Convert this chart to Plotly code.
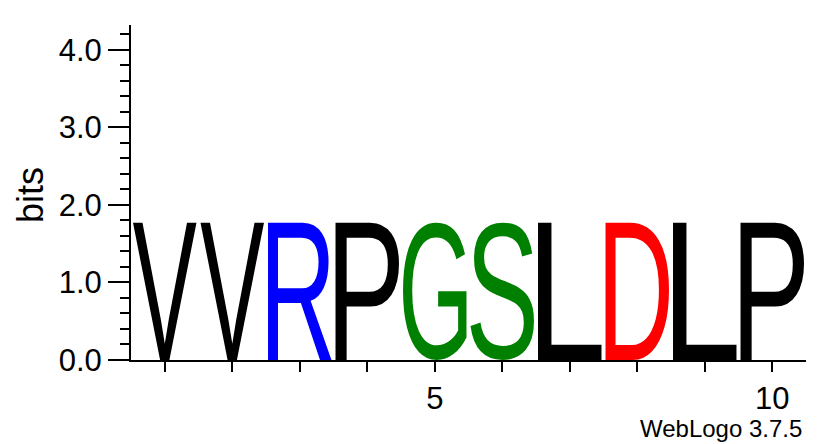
import glob
import struct
import subprocess

import plotly.graph_objects as go

# sequence logo data
positions = [1, 2, 3, 4, 5, 6, 7, 8, 9, 10]
residues = ['V', 'V', 'R', 'P', 'G', 'S', 'L', 'D', 'L', 'P']
bits = [1.77, 1.77, 1.77, 1.77, 1.77, 1.77, 1.77, 1.77, 1.77, 1.77]
x_tick_labels = ['', '', '', '', '5', '', '', '', '', '10']
y_max = 4.32

# weblogo default protein colours, everything else is black
colors = {'G': '#008000', 'S': '#008000', 'T': '#008000', 'Y': '#008000',
          'C': '#008000', 'Q': '#008000', 'N': '#008000',
          'K': '#0000ff', 'R': '#0000ff', 'H': '#0000ff',
          'D': '#ff0000', 'E': '#ff0000'}

FONT = 'Liberation Sans, Arial, Helvetica, sans-serif'


def find_font():
    try:
        f = subprocess.run(['fc-match', '-f', '%{file}', 'Liberation Sans'],
                           capture_output=True, text=True).stdout.strip()
        if f.lower().endswith('.ttf'):
            return f
    except Exception:
        pass
    for pat in ['/usr/share/fonts/**/LiberationSans-Regular.ttf',
                '/usr/**/LiberationSans-Regular.ttf',
                '/usr/share/fonts/**/DejaVuSans.ttf']:
        r = glob.glob(pat, recursive=True)
        if r:
            return r[0]
    return None


class TTF:
    # just enough of a truetype reader to get glyph outlines
    def __init__(self, path):
        d = open(path, 'rb').read()
        self.d = d
        n = struct.unpack('>H', d[4:6])[0]
        self.tab = {}
        for i in range(n):
            tag, _, off, ln = struct.unpack('>4sIII', d[12 + 16 * i:28 + 16 * i])
            self.tab[tag.decode('latin1')] = off
        head = self.tab['head']
        locfmt = struct.unpack('>h', d[head + 50:head + 52])[0]
        maxp = self.tab['maxp']
        ng = struct.unpack('>H', d[maxp + 4:maxp + 6])[0]
        lo = self.tab['loca']
        if locfmt == 0:
            self.loca = [2 * v for v in struct.unpack('>%dH' % (ng + 1), d[lo:lo + 2 * (ng + 1)])]
        else:
            self.loca = list(struct.unpack('>%dI' % (ng + 1), d[lo:lo + 4 * (ng + 1)]))
        self._read_cmap()

    def _read_cmap(self):
        d = self.d
        base = self.tab['cmap']
        n = struct.unpack('>H', d[base + 2:base + 4])[0]
        sub = None
        for i in range(n):
            pid, eid, off = struct.unpack('>HHI', d[base + 4 + 8 * i:base + 12 + 8 * i])
            fmt = struct.unpack('>H', d[base + off:base + off + 2])[0]
            if fmt == 4 and pid in (0, 3):
                sub = base + off
                break
        segx2 = struct.unpack('>H', d[sub + 6:sub + 8])[0]
        seg = segx2 // 2
        self.ends = struct.unpack('>%dH' % seg, d[sub + 14:sub + 14 + segx2])
        s0 = sub + 16 + segx2
        self.starts = struct.unpack('>%dH' % seg, d[s0:s0 + segx2])
        self.deltas = struct.unpack('>%dh' % seg, d[s0 + segx2:s0 + 2 * segx2])
        self.ro_off = s0 + 2 * segx2
        self.ros = struct.unpack('>%dH' % seg, d[self.ro_off:self.ro_off + segx2])

    def gid(self, ch):
        c = ord(ch)
        for k in range(len(self.ends)):
            if self.starts[k] <= c <= self.ends[k]:
                if self.ros[k] == 0:
                    return (c + self.deltas[k]) & 0xFFFF
                a = self.ro_off + 2 * k + self.ros[k] + 2 * (c - self.starts[k])
                g = struct.unpack('>H', self.d[a:a + 2])[0]
                return (g + self.deltas[k]) & 0xFFFF if g else 0
        return 0

    def glyph(self, ch):
        d = self.d
        p = self.tab['glyf'] + self.loca[self.gid(ch)]
        nc, xmin, ymin, xmax, ymax = struct.unpack('>hhhhh', d[p:p + 10])
        p += 10
        ends = struct.unpack('>%dH' % nc, d[p:p + 2 * nc])
        p += 2 * nc
        p += 2 + struct.unpack('>H', d[p:p + 2])[0]
        npts = ends[-1] + 1
        flags = []
        while len(flags) < npts:
            f = d[p]
            p += 1
            flags.append(f)
            if f & 8:
                flags.extend([f] * d[p])
                p += 1
        coords = []
        for short, same in ((2, 16), (4, 32)):
            v = 0
            vals = []
            for f in flags:
                if f & short:
                    v += d[p] if f & same else -d[p]
                    p += 1
                elif not f & same:
                    v += struct.unpack('>h', d[p:p + 2])[0]
                    p += 2
                vals.append(v)
            coords.append(vals)
        xs, ys = coords
        cont = []
        s = 0
        for e in ends:
            cont.append([(xs[i], ys[i], flags[i] & 1) for i in range(s, e + 1)])
            s = e + 1
        return cont, (xmin, ymin, xmax, ymax)


def glyph_path(font, ch, x0, x1, y0, y1):
    cont, (gx0, gy0, gx1, gy1) = font.glyph(ch)

    def tf(x, y):
        return (x0 + (x - gx0) / (gx1 - gx0) * (x1 - x0),
                y0 + (y - gy0) / (gy1 - gy0) * (y1 - y0))

    def fmt(pt):
        return '%.5f,%.5f' % pt

    out = []
    for pts in cont:
        pts = [(*tf(x, y), on) for x, y, on in pts]
        k = next((i for i in range(len(pts)) if pts[i][2]), 0)
        seq = pts[k:] + pts[:k]
        out.append('M' + fmt(seq[0][:2]))
        ctrl = None
        for x, y, on in seq[1:] + [seq[0]]:
            if on:
                if ctrl is None:
                    out.append('L' + fmt((x, y)))
                else:
                    out.append('Q' + fmt(ctrl) + ' ' + fmt((x, y)))
                    ctrl = None
            else:
                if ctrl is not None:
                    mid = ((ctrl[0] + x) / 2, (ctrl[1] + y) / 2)
                    out.append('Q' + fmt(ctrl) + ' ' + fmt(mid))
                ctrl = (x, y)
        out.append('Z')
    return ' '.join(out)


fig = go.Figure()
fig.add_trace(go.Scatter(x=positions, y=bits, mode='markers', text=residues,
                         marker=dict(opacity=0), hoverinfo='x+y+text',
                         showlegend=False))

font_file = find_font()
ttf = TTF(font_file) if font_file else None
margin = 0.03
for pos, res, h in zip(positions, residues, bits):
    cor = colors.get(res, '#000000')
    if ttf is not None:
        fig.add_shape(type='path', xref='x', yref='y',
                      path=glyph_path(ttf, res, pos - 0.5 + margin, pos + 0.5 - margin, 0, h),
                      fillcolor=cor, line=dict(width=0), layer='below')
    else:
        fig.add_annotation(x=pos, y=h / 2, text=res, showarrow=False,
                           font=dict(size=150, color=cor, family=FONT))

# the page body keeps its 8px margin, so the figure is 8px smaller than the window
fig.update_layout(
    width=823, height=436,
    margin=dict(l=123, r=25, t=17, b=84),
    paper_bgcolor='white', plot_bgcolor='white',
    font=dict(family=FONT, color='black'),
    showlegend=False,
    xaxis=dict(range=[0.5, 10.5], tickvals=positions, ticktext=x_tick_labels,
               ticks='outside', ticklen=10, tickwidth=1.5, tickcolor='black',
               showline=True, linecolor='black', linewidth=1.5,
               showgrid=False, zeroline=False, tickfont=dict(size=31)),
    yaxis=dict(range=[0, y_max], dtick=1, tick0=0, tickformat='.1f',
               ticks='outside', ticklen=21, tickwidth=2, tickcolor='black',
               minor=dict(dtick=0.2, ticks='outside', ticklen=9, tickwidth=2,
                          tickcolor='black', showgrid=False),
               showline=True, linecolor='black', linewidth=2,
               showgrid=False, zeroline=False, tickfont=dict(size=31)),
)

fig.add_annotation(text='bits', xref='paper', yref='paper', x=-0.1496, y=0.4925,
                   xanchor='center', yanchor='middle',
                   textangle=-90, showarrow=False, font=dict(size=36))
fig.add_annotation(text='WebLogo 3.7.5', xref='paper', yref='paper',
                   x=0.997, y=-0.203, xanchor='right', yanchor='middle',
                   showarrow=False, font=dict(size=24))

fig.write_html("out.html")
